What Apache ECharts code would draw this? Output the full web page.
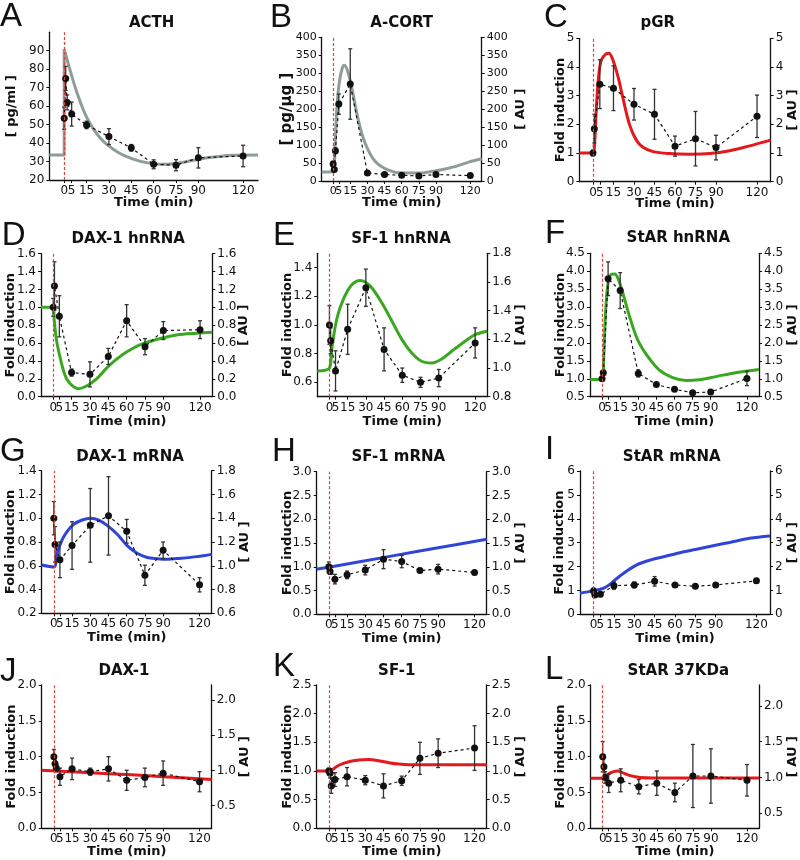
<!DOCTYPE html>
<html>
<head>
<meta charset="utf-8">
<script src="https://cdn.jsdelivr.net/npm/echarts@6/dist/echarts.min.js"></script>
<style>
  html, body { margin: 0; padding: 0; background: #fff; }
  #chart { width: 800px; height: 860px; }
</style>
</head>
<body>
<div id="chart"></div>
<script>
// ---- data: [time (min), mean, error] and model curves [time, value] ----
const timeTicks = [0, 5, 15, 30, 45, 60, 75, 90, 120];

const acthData = [[0, 53.4, 6], [1, 75, 6.5], [2, 62, 4], [5, 55.7, 6.5], [15, 49.8, 2], [30, 43.5, 4.3],
  [45, 37.4, 1.8], [60, 28.5, 2.4], [75, 28, 3], [90, 32, 5.5], [120, 33, 5.8]];
const acthModel = [[-10, 33.5], [0, 33.5], [0, 90.8], [2, 85], [4.2, 78.7], [8.7, 67], [15.4, 53.4], [24.3, 42.6],
  [35.5, 35.3], [46.7, 31.2], [57.8, 29], [69, 28.5], [80, 29.6], [91, 31.4], [102, 32.6], [113.6, 33.4], [130, 33.5]];

const acortData = [[0, 47, 8], [1, 32, 5], [2, 84, 8], [5, 214, 28], [15, 270, 98], [30, 22, 3],
  [45, 18, 3], [60, 16, 2], [75, 14, 2], [90, 18, 3], [120, 15, 2]];
const acortModel = [[-10, 25], [0, 26], [1.7, 100], [3.2, 200], [5.2, 270], [7.6, 310], [9.9, 322], [12.8, 305],
  [16.3, 260], [22, 170], [28, 105], [36.7, 55], [48.4, 30], [60, 22], [74.6, 22], [89, 28], [104, 38], [118, 52], [130, 62]];

const pgrData = [[0, 1.0, 0.1], [1, 1.85, 0.5], [5, 3.4, 0.85], [15, 3.26, 0.78], [30, 2.7, 0.55], [45, 2.35, 0.87],
  [60, 1.24, 0.35], [75, 1.5, 0.95], [90, 1.19, 0.43], [120, 2.28, 0.74]];
const pgrModel = [[-10, 1.0], [0, 1.0], [1.2, 1.34], [2.4, 2.5], [4.1, 3.66], [6.1, 4.24], [9.3, 4.45], [11.7, 4.48],
  [14.6, 4.24], [18.3, 3.66], [22, 2.9], [26.8, 1.98], [31.7, 1.45], [36.6, 1.2], [43.9, 1.05], [56, 0.98],
  [70.7, 0.96], [85.4, 0.98], [100, 1.08], [114.6, 1.25], [130, 1.45]];

const daxHnData = [[0, 1.0, 0.1], [1, 1.24, 0.27], [5, 0.9, 0.23], [15, 0.27, 0.04], [30, 0.25, 0.14], [45, 0.45, 0.09],
  [60, 0.85, 0.18], [75, 0.56, 0.09], [90, 0.74, 0.1], [120, 0.75, 0.1]];
const daxHnModel = [[-10, 1.0], [0, 1.0], [0.8, 0.86], [2.7, 0.63], [5.4, 0.45], [8.2, 0.3], [10.9, 0.2], [15, 0.13],
  [20.4, 0.09], [27.2, 0.12], [35.4, 0.2], [43.6, 0.32], [51.8, 0.42], [59.9, 0.5], [70.8, 0.58], [84.5, 0.64],
  [100.8, 0.69], [117, 0.71], [130, 0.72]];

const sfHnData = [[0, 1.0, 0.135], [1, 0.89, 0.09], [5, 0.68, 0.14], [15, 0.97, 0.175], [30, 1.26, 0.13], [45, 0.83, 0.15],
  [60, 0.65, 0.05], [75, 0.6, 0.035], [90, 0.63, 0.06], [120, 0.875, 0.105]];
const sfHnModel = [[-10, 0.68], [0, 0.7], [1.9, 0.83], [6, 1.04], [11.5, 1.18], [18.4, 1.28], [25.3, 1.31], [29.4, 1.3],
  [34.9, 1.26], [43.1, 1.155], [51.3, 1.03], [59.6, 0.9], [67.8, 0.805], [76, 0.747], [84.3, 0.735], [92.5, 0.763],
  [100.7, 0.817], [111.7, 0.887], [120, 0.933], [130, 0.957]];

const starHnData = [[0, 1.0, 0.05], [1, 1.17, 0.05], [5, 3.79, 0.47], [15, 3.46, 0.5], [30, 1.15, 0.1], [45, 0.84, 0.03],
  [60, 0.71, 0.03], [75, 0.61, 0.03], [90, 0.63, 0.03], [120, 1.01, 0.2]];
const starHnModel = [[-10, 0.98], [0, 0.98], [1.4, 1.62], [3, 2.92], [4.9, 3.66], [7.1, 3.9], [10.4, 3.92], [13.2, 3.8],
  [17.3, 3.38], [22.8, 2.73], [29.6, 2.08], [37.9, 1.62], [47.5, 1.24], [58.5, 1.03], [69.4, 0.95], [80.4, 0.97],
  [94.2, 1.06], [110.6, 1.17], [130, 1.26]];

const daxMData = [[0, 1.0, 0.14], [1, 0.78, 0.15], [5, 0.65, 0.15], [15, 0.77, 0.2], [30, 0.94, 0.31], [45, 1.02, 0.33],
  [60, 0.89, 0.1], [75, 0.52, 0.085], [90, 0.73, 0.07], [120, 0.44, 0.06]];
const daxMModel = [[-10, 0.607], [0, 0.59], [2.7, 0.705], [6.9, 0.82], [11, 0.89], [16.5, 0.95], [23.3, 0.985], [30.2, 1.0],
  [37, 0.985], [43.9, 0.94], [52.2, 0.865], [60.4, 0.77], [68.6, 0.705], [76.9, 0.67], [85.1, 0.66], [93.3, 0.655],
  [104.3, 0.663], [118, 0.677], [130, 0.696]];

const sfMData = [[0, 1.0, 0.1], [1, 0.9, 0.06], [5, 0.74, 0.1], [15, 0.83, 0.08], [30, 0.93, 0.1], [45, 1.16, 0.2],
  [60, 1.11, 0.13], [75, 0.92, 0.03], [90, 0.95, 0.1], [120, 0.88, 0.04]];
const sfMModel = [[-10, 0.95], [0, 0.99], [30, 1.125], [57, 1.25], [90, 1.4], [130, 1.58]];

const starMData = [[0, 0.98, 0.12], [1, 0.81, 0.05], [5, 0.84, 0.08], [15, 1.2, 0.15], [30, 1.23, 0.12], [45, 1.38, 0.2],
  [60, 1.23, 0.08], [75, 1.17, 0.05], [90, 1.23, 0.08], [120, 1.4, 0.1]];
const starMModel = [[-10, 0.88], [0, 0.99], [7.3, 1.09], [12.2, 1.26], [17.1, 1.5], [24.5, 1.81], [31.8, 2.07], [41.6, 2.27],
  [51.4, 2.41], [63.6, 2.58], [75.9, 2.72], [88.1, 2.87], [100.3, 3.01], [115, 3.18], [130, 3.28]];

const daxPData = [[0, 1.0, 0.1], [1, 0.9, 0.05], [2, 0.84, 0.05], [5, 0.72, 0.12], [15, 0.83, 0.15], [30, 0.79, 0.05],
  [45, 0.83, 0.17], [60, 0.67, 0.14], [75, 0.71, 0.13], [90, 0.77, 0.17], [120, 0.65, 0.14]];
const daxPModel = [[-10, 0.81], [30, 0.775], [60, 0.75], [90, 0.72], [130, 0.68]];

const sfPData = [[0, 1.0, 0.05], [1, 0.96, 0.08], [2, 0.74, 0.13], [5, 0.85, 0.12], [15, 0.9, 0.16], [30, 0.84, 0.08],
  [45, 0.74, 0.21], [60, 0.83, 0.08], [75, 1.22, 0.28], [90, 1.31, 0.25], [120, 1.4, 0.39]];
const sfPModel = [[-10, 1.0], [0, 1.0], [8.2, 1.1], [16.5, 1.16], [24.7, 1.19], [32.9, 1.2], [41.2, 1.18], [49.4, 1.145],
  [57.6, 1.12], [65.9, 1.11], [76.9, 1.11], [130, 1.11]];

const starPData = [[0, 1.0, 0.21], [1, 0.86, 0.16], [2, 0.71, 0.08], [5, 0.63, 0.13], [15, 0.67, 0.16], [30, 0.58, 0.1],
  [45, 0.63, 0.17], [60, 0.5, 0.13], [75, 0.73, 0.44], [90, 0.73, 0.38], [120, 0.67, 0.22]];
const starPModel = [[-10, 0.698], [0, 0.698], [2.2, 0.72], [5, 0.76], [9.1, 0.79], [12.4, 0.8], [17.4, 0.77], [22.9, 0.735],
  [31.1, 0.71], [42.2, 0.703], [130, 0.703]];

// y tick labels
const acthTicks = [20, 30, 40, 50, 60, 70, 80, 90];
const acortTicks = [0, 50, 100, 150, 200, 250, 300, 350, 400];
const pgrTicks = [0, 1, 2, 3, 4, 5];
const daxHnTicks = [0, 0.2, 0.4, 0.6, 0.8, 1.0, 1.2, 1.4, 1.6];
const sfHnTicksL = [0.6, 0.8, 1.0, 1.2, 1.4];
const sfHnTicksR = [0.8, 1.0, 1.2, 1.4, 1.6, 1.8];
const starHnTicks = [0.5, 1.0, 1.5, 2.0, 2.5, 3.0, 3.5, 4.0, 4.5];
const daxMTicksL = [0.2, 0.4, 0.6, 0.8, 1.0, 1.2, 1.4];
const daxMTicksR = [0.6, 0.8, 1.0, 1.2, 1.4, 1.6, 1.8];
const sfMTicks = [0, 0.5, 1.0, 1.5, 2.0, 2.5, 3.0];
const starMTicks = [0, 1, 2, 3, 4, 5, 6];
const daxPTicksL = [0, 0.5, 1.0, 1.5, 2.0];
const daxPTicksR = [0.5, 1.0, 1.5, 2.0];
const sfPTicks = [0, 0.5, 1.0, 1.5, 2.0, 2.5];
const starPTicksL = [0, 0.5, 1.0, 1.5, 2.0];
const starPTicksR = [0.5, 1.0, 1.5, 2.0];

// ---- styles / layout ----
const GRAY = "#8e9c9a", RED = "#e3191c", GREEN = "#3aa81e", BLUE = "#2f44d8";
const INK = "#111";
const FONT = "DejaVu Sans";
const FI = "Fold induction", AU = "[ AU ]";

// "0" and "5" sit almost on top of each other, so the 5 goes on a second, bare x axis
const mainTimeLabels = timeTicks.filter((v) => v !== 5);
const auxTimeLabels = timeTicks.filter((v) => v === 5);

const panels = [
  { letter: "A", lxy: [0, 16.5], title: "ACTH", txy: [151.7, 23.3], box: [49.3, 32.2, 208.7, 147.8],
    data: acthData, model: acthModel, color: GRAY, dec: 0, fs: 12, xGap: 16,
    left: { min: 20, max: 100, ticks: acthTicks, name: "[ pg/ml ]", gap: 31 } },
  { letter: "B", lxy: [270, 17.5], title: "A-CORT", txy: [401.7, 22.7], box: [321.7, 37.3, 160, 143.7],
    data: acortData, model: acortModel, color: GRAY, dec: 0, fs: 11, xGap: 15.5,
    left: { min: 0, max: 400, ticks: acortTicks, name: "[ pg/μg ]", gap: 27, nfs: 15 },
    right: { min: 0, max: 400, ticks: acortTicks, name: AU, gap: 32 } },
  { letter: "C", lxy: [544, 17.5], title: "pGR", txy: [657.7, 22.7], box: [579.3, 38.3, 191.4, 143.4],
    data: pgrData, model: pgrModel, color: RED, dec: 0, fs: 12, xGap: 15,
    left: { min: 0, max: 5, ticks: pgrTicks, name: FI, gap: 12 },
    right: { min: 0, max: 5, ticks: pgrTicks, name: AU, gap: 15 } },
  { letter: "D", lxy: [1.7, 236], title: "DAX-1 hnRNA", txy: [128.3, 239.3], box: [41, 253.7, 171.3, 143],
    data: daxHnData, model: daxHnModel, color: GREEN, dec: 1, fs: 12, xGap: 18,
    left: { min: 0, max: 1.6, ticks: daxHnTicks, name: FI, gap: 23.5 },
    right: { min: 0, max: 1.6, ticks: daxHnTicks, name: AU, gap: 25 } },
  { letter: "E", lxy: [273, 236], title: "SF-1 hnRNA", txy: [401, 239.3], box: [317.3, 253.3, 170, 143.4],
    data: sfHnData, model: sfHnModel, color: GREEN, dec: 1, fs: 12, xGap: 18,
    left: { min: 0.5, max: 1.5, ticks: sfHnTicksL, name: FI, gap: 23 },
    right: { min: 0.8, max: 1.8, ticks: sfHnTicksR, name: AU, gap: 27 } },
  { letter: "F", lxy: [545, 234], title: "StAR hnRNA", txy: [678.3, 238.3], box: [590, 253.3, 170, 143.4],
    data: starHnData, model: starHnModel, color: GREEN, dec: 1, fs: 12, xGap: 18,
    left: { min: 0.5, max: 4.5, ticks: starHnTicks, name: FI, gap: 23 },
    right: { min: 0.5, max: 4.5, ticks: starHnTicks, name: AU, gap: 27 } },
  { letter: "G", lxy: [0, 451.7], title: "DAX-1 mRNA", txy: [130, 457.3], box: [41.7, 470.7, 170, 142.6],
    data: daxMData, model: daxMModel, color: BLUE, dec: 1, fs: 12, xGap: 18,
    left: { min: 0.2, max: 1.4, ticks: daxMTicksL, name: FI, gap: 25 },
    right: { min: 0.6, max: 1.8, ticks: daxMTicksR, name: AU, gap: 26 } },
  { letter: "H", lxy: [272, 451.5], title: "SF-1 mRNA", txy: [398.3, 457.3], box: [316.7, 471.7, 170, 142.6],
    data: sfMData, model: sfMModel, color: BLUE, dec: 1, fs: 12, xGap: 18,
    left: { min: 0, max: 3, ticks: sfMTicks, name: FI, gap: 22.5 },
    right: { min: 0, max: 3, ticks: sfMTicks, name: AU, gap: 27.5 } },
  { letter: "I", lxy: [545, 450], title: "StAR mRNA", txy: [671.7, 457.3], box: [580, 471, 190.7, 143.3],
    data: starMData, model: starMModel, color: BLUE, dec: 0, fs: 12, xGap: 18,
    left: { min: 0, max: 6, ticks: starMTicks, name: FI, gap: 14 },
    right: { min: 0, max: 6, ticks: starMTicks, name: AU, gap: 16 } },
  { letter: "J", lxy: [0, 671.7], title: "DAX-1", txy: [124, 670.7], box: [41.7, 685, 170, 143.3],
    data: daxPData, model: daxPModel, color: RED, dec: 1, fs: 12, xGap: 16.5,
    left: { min: 0, max: 2, ticks: daxPTicksL, name: FI, gap: 24 },
    right: { min: 0.18, max: 2.21, ticks: daxPTicksR, name: AU, gap: 26 } },
  { letter: "K", lxy: [273, 666.5], title: "SF-1", txy: [396.7, 670.7], box: [316.7, 685, 170, 143.3],
    data: sfPData, model: sfPModel, color: RED, dec: 1, fs: 12, xGap: 16.5,
    left: { min: 0, max: 2.5, ticks: sfPTicks, name: FI, gap: 22.5 },
    right: { min: 0, max: 2.5, ticks: sfPTicks, name: AU, gap: 27 } },
  { letter: "L", lxy: [545, 670], title: "StAR 37KDa", txy: [678.3, 670.7], box: [590.7, 685, 169.3, 143.3],
    data: starPData, model: starPModel, color: RED, dec: 1, fs: 12, xGap: 16.5,
    left: { min: 0, max: 2, ticks: starPTicksL, name: FI, gap: 24 },
    right: { min: 0.29, max: 2.29, ticks: starPTicksR, name: AU, gap: 27 } },
];

// vertical error bar with tiny caps
const errorBar = (params, api) => {
  const t = api.value(0);
  const lo = api.coord([t, api.value(1)]);
  const hi = api.coord([t, api.value(2)]);
  const st = { stroke: "#333", lineWidth: 1.3 };
  return {
    type: "group",
    children: [
      { type: "line", shape: { x1: lo[0], y1: lo[1], x2: hi[0], y2: hi[1] }, style: st },
      { type: "line", shape: { x1: lo[0] - 2, y1: lo[1], x2: lo[0] + 2, y2: lo[1] }, style: st },
      { type: "line", shape: { x1: hi[0] - 2, y1: hi[1], x2: hi[0] + 2, y2: hi[1] }, style: st },
    ],
  };
};

const makeY = (i, ax, pos, p) => ({
  type: "value",
  gridIndex: i,
  position: pos,
  min: ax.min,
  max: ax.max,
  axisLine: { show: true, onZero: false, lineStyle: { color: INK, width: 1.3 } },
  axisTick: { show: true, length: 3, customValues: ax.ticks, lineStyle: { color: INK } },
  axisLabel: {
    customValues: ax.ticks, margin: 5, color: INK, fontFamily: FONT, fontSize: p.fs,
    showMinLabel: true, showMaxLabel: true,
    formatter: (v) => Number(v).toFixed(p.dec),
  },
  splitLine: { show: false },
  name: ax.name,
  nameLocation: "middle",
  nameGap: ax.gap,
  nameRotate: 90,
  nameMoveOverlap: false,
  nameTextStyle: { fontFamily: FONT, fontWeight: "bold", fontSize: ax.nfs || 13, color: INK },
});

const grid = [], xAxis = [], yAxis = [], series = [], graphic = [];

panels.forEach((p, i) => {
  grid.push({ left: p.box[0], top: p.box[1], width: p.box[2], height: p.box[3] });
  const xi = xAxis.length;
  const labelStyle = { margin: 5, color: INK, fontFamily: FONT, fontSize: p.fs, showMinLabel: true, showMaxLabel: true };
  xAxis.push({
    type: "value",
    gridIndex: i,
    position: "bottom",
    min: -10,
    max: 130,
    axisLine: { onZero: false, lineStyle: { color: INK, width: 1.3 } },
    axisTick: { length: 3, customValues: timeTicks, lineStyle: { color: INK } },
    axisLabel: { customValues: mainTimeLabels, ...labelStyle },
    splitLine: { show: false },
    name: "Time (min)",
    nameLocation: "middle",
    nameGap: p.xGap,
    nameMoveOverlap: false,
    nameTextStyle: { fontFamily: FONT, fontWeight: "bold", fontSize: 13, color: INK },
  });
  xAxis.push({
    type: "value",
    gridIndex: i,
    position: "bottom",
    offset: 0,
    min: -10,
    max: 130,
    axisLine: { show: false, onZero: false },
    axisTick: { show: false },
    axisLabel: { customValues: auxTimeLabels, ...labelStyle },
    splitLine: { show: false },
  });
  const yl = yAxis.length;
  yAxis.push(makeY(i, p.left, "left", p));
  if (p.right) yAxis.push(makeY(i, p.right, "right", p));

  // model curve + stimulus marker at t = 0
  series.push({
    type: "line", xAxisIndex: xi, yAxisIndex: yl, data: p.model,
    smooth: 0.35, showSymbol: false, z: 2,
    lineStyle: { color: p.color, width: 3 },
    markLine: {
      silent: true, symbol: "none", label: { show: false },
      lineStyle: { color: "#d9453d", type: [3, 2], width: 1.2 },
      data: [{ xAxis: 0 }],
    },
  });
  // error bars
  series.push({
    type: "custom", xAxisIndex: xi, yAxisIndex: yl, renderItem: errorBar, z: 3,
    encode: { x: 0, y: [1, 2] },
    data: p.data.map((d) => [d[0], d[1] - d[2], d[1] + d[2]]),
  });
  // measured means
  series.push({
    type: "line", xAxisIndex: xi, yAxisIndex: yl, z: 4,
    data: p.data.map((d) => [d[0], d[1]]),
    symbol: "circle", symbolSize: 7,
    itemStyle: { color: INK },
    lineStyle: { color: INK, width: 1.2, type: [3, 3] },
  });

  graphic.push({
    type: "text", x: p.lxy[0], y: p.lxy[1],
    style: { text: p.letter, font: '33px "Liberation Sans"', fill: INK, align: "left", verticalAlign: "middle" },
  });
  graphic.push({
    type: "text", x: p.txy[0], y: p.txy[1],
    style: { text: p.title, font: 'bold 15px "DejaVu Sans"', fill: INK, align: "center", verticalAlign: "middle" },
  });
});

const chart = echarts.init(document.getElementById("chart"));
chart.setOption({
  animation: false,
  backgroundColor: "#fff",
  textStyle: { fontFamily: FONT },
  grid, xAxis, yAxis, series, graphic,
});
</script>
</body>
</html>
